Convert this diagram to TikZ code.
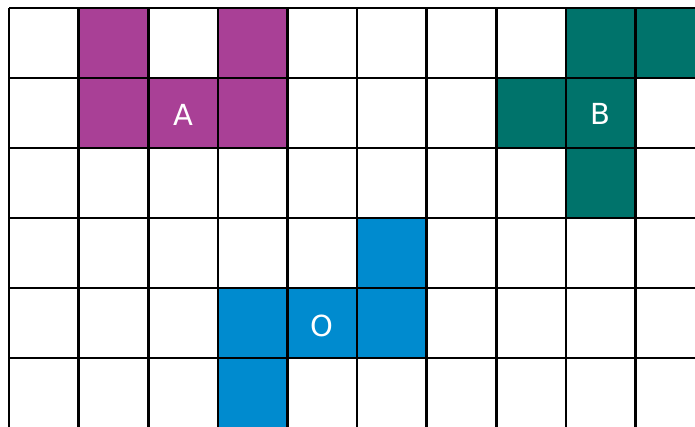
\documentclass[tikz,border=0pt]{standalone}
\usepackage{fontspec}
\setmainfont{DejaVu Sans}
\definecolor{cpurple}{HTML}{A94096}
\definecolor{cgreen}{HTML}{00736B}
\definecolor{cblue}{HTML}{008BCF}
\tikzset{
  cell/.style={draw=none,minimum width=69.6pt,minimum height=70pt,inner sep=0pt,outer sep=0pt,anchor=center},
  lbl/.style={text=white,font=\fontsize{29}{29}\selectfont,inner sep=0pt,anchor=center},
  gridline/.style={black,line width=2.6pt},
}
\begin{document}
\begin{tikzpicture}[x=1pt,y=1pt]
\useasboundingbox (0,0) rectangle (695,-426);
\clip (0,0) rectangle (695,-426);
\def\c{69.6}
\def\r{70}
% purple
\foreach \i/\j/\n in {1/0/p1,3/0/p2,1/1/p3,2/1/p5,3/1/p4}{
  \node[cell,fill=cpurple] (\n) at ({9+\c*(\i+0.5)},{-8-\r*(\j+0.5)}) {};
}
\node[lbl] (A) at ([yshift=-2pt]p5.center) {A};
% green
\foreach \i/\j/\n in {8/0/g1,9/0/g2,7/1/g3,8/1/g5,8/2/g4}{
  \node[cell,fill=cgreen] (\n) at ({9+\c*(\i+0.5)},{-8-\r*(\j+0.5)}) {};
}
\node[lbl] (B) at ([yshift=-1pt]g5.center) {B};
% blue
\foreach \i/\j/\n in {5/3/b1,3/4/b2,4/4/b5,5/4/b3,3/5/b4}{
  \node[cell,fill=cblue] (\n) at ({9+\c*(\i+0.5)},{-8-\r*(\j+0.5)}) {};
}
\node[lbl] (O) at ([yshift=-3pt]b5.center) {O};
% grid
\foreach \k in {0,...,10}{
  \draw[gridline] ({9+\c*\k},-8) -- ({9+\c*\k},{-8-\r*6});
}
\foreach \k in {0,...,6}{
  \draw[gridline] (9,{-8-\r*\k}) -- ({9+\c*10},{-8-\r*\k});
}
\end{tikzpicture}
\end{document}
